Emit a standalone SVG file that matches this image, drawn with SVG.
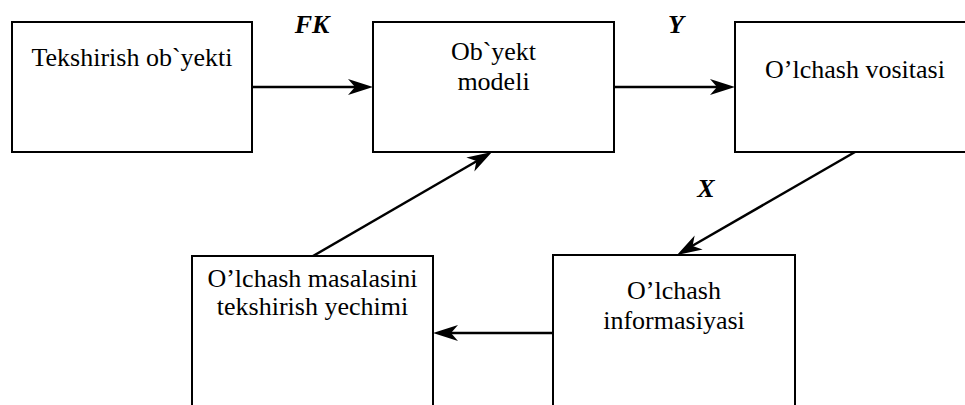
<svg xmlns="http://www.w3.org/2000/svg" width="965" height="405" viewBox="0 0 965 405">
  <style>
    .box { fill: #fff; stroke: #000; stroke-width: 2; }
    .link { fill: none; stroke: #000; stroke-width: 2.5; }
  </style>
  <defs>
    <!-- barbed arrowhead, tip at the origin, pointing along +x -->
    <path id="head" d="M0,0 L-25,-8 L-18,0 L-25,8 Z" fill="#000"/>
  </defs>

  <rect width="965" height="405" fill="#fff"/>

  <g id="connectors">
    <line class="link" x1="252" y1="87" x2="355" y2="87"/>
    <use href="#head" transform="translate(373,87)"/>
    <line class="link" x1="614" y1="87" x2="717" y2="87"/>
    <use href="#head" transform="translate(735,87)"/>
    <line class="link" x1="855" y1="152" x2="692" y2="246"/>
    <use href="#head" transform="translate(677,255) rotate(150)"/>
    <line class="link" x1="553" y1="333" x2="451" y2="333"/>
    <use href="#head" transform="translate(433,333) rotate(180)"/>
    <line class="link" x1="313" y1="256" x2="477" y2="161"/>
    <use href="#head" transform="translate(492,152) rotate(-30)"/>
  </g>

  <g id="labels">
    <text x="312" y="33" font-family="Liberation Serif" font-size="26" font-weight="bold" font-style="italic" text-anchor="middle">FK</text>
    <text x="676" y="33" font-family="Liberation Serif" font-size="26" font-weight="bold" font-style="italic" text-anchor="middle">Y</text>
    <text x="706" y="197" font-family="Liberation Serif" font-size="26" font-weight="bold" font-style="italic" text-anchor="middle">X</text>
  </g>

  <g id="node-object">
    <rect class="box" x="12" y="22" width="240" height="130"/>
    <text x="132" y="66" font-family="Liberation Serif" font-size="26" text-anchor="middle">Tekshirish ob`yekti</text>
  </g>

  <g id="node-model">
    <rect class="box" x="373" y="22" width="241" height="130"/>
    <text x="493.5" y="60" font-family="Liberation Serif" font-size="26" text-anchor="middle">Ob`yekt</text>
    <text x="493.5" y="90" font-family="Liberation Serif" font-size="26" text-anchor="middle">modeli</text>
  </g>

  <g id="node-instrument">
    <rect class="box" x="735" y="22" width="240" height="130"/>
    <text x="855" y="78" font-family="Liberation Serif" font-size="26" text-anchor="middle">O&#8217;lchash vositasi</text>
  </g>

  <g id="node-information">
    <rect class="box" x="553" y="255" width="242" height="170"/>
    <text x="674" y="299" font-family="Liberation Serif" font-size="26" text-anchor="middle">O&#8217;lchash</text>
    <text x="674" y="329" font-family="Liberation Serif" font-size="26" text-anchor="middle">informasiyasi</text>
  </g>

  <g id="node-solution">
    <rect class="box" x="192" y="256" width="241" height="170"/>
    <text x="312.5" y="287" font-family="Liberation Serif" font-size="26" text-anchor="middle">O&#8217;lchash masalasini</text>
    <text x="312.5" y="315" font-family="Liberation Serif" font-size="26" text-anchor="middle">tekshirish yechimi</text>
  </g>
</svg>
